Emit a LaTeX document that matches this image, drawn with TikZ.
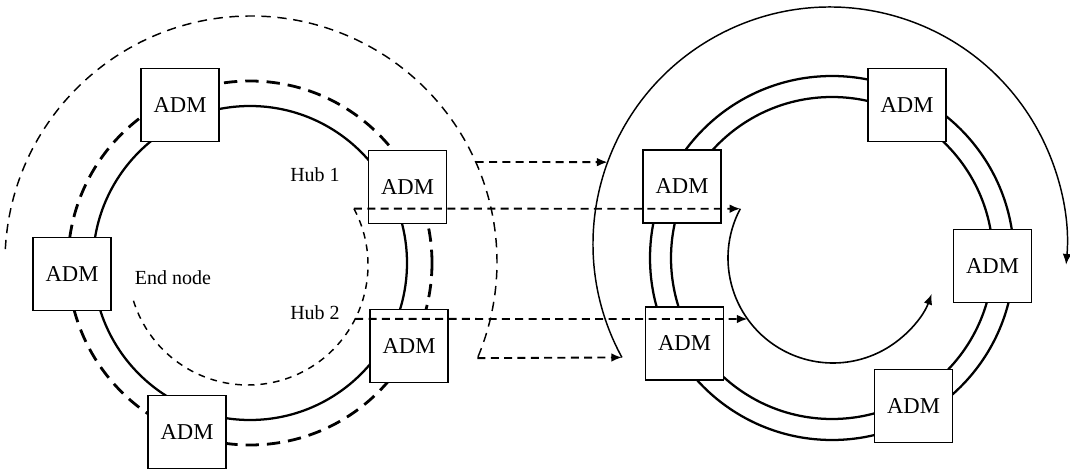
\documentclass[tikz,border=0pt]{standalone}
\usepackage{fontspec}
\setmainfont{Liberation Serif}
\usetikzlibrary{arrows.meta}
\begin{document}
\begin{tikzpicture}[x=0.75pt,y=0.75pt,
  adm/.style={draw, line width=1.2pt, fill=white, minimum width=58.5pt, minimum height=54.75pt, inner sep=0pt, font=\fontsize{17}{20}\selectfont},
  lbl/.style={font=\fontsize{15}{18}\selectfont, inner sep=0pt},
  ring/.style={line width=1.7pt},
  thickdash/.style={line width=2.1pt, dash pattern=on 10pt off 6pt},
  thindash/.style={line width=1.1pt, dash pattern=on 7pt off 5pt},
  smalldash/.style={line width=1.1pt, dash pattern=on 5pt off 4.5pt},
  flow/.style={line width=1.4pt, dash pattern=on 6pt off 4pt, -{Latex[length=8pt,width=6.5pt]}},
  turn/.style={line width=1.2pt, -{Latex[length=8pt,width=6.5pt]}}
]
\useasboundingbox (0,0) rectangle (1070,-470);

% centres
\coordinate (Lc) at (250,-263);
\coordinate (Sc) at (248,-265);
\coordinate (Oc) at (251,-262);
\coordinate (Rc) at (832,-258);
\coordinate (Bc) at (830,-244);
\coordinate (Ic) at (833,-258);

% left ring
\draw[ring] (Lc) circle[radius=157];
\draw[thickdash] (Lc) circle[radius=182];
\draw[smalldash] ([shift={(28:120)}]Sc) arc[start angle=28, end angle=-163.5, radius=120];
\draw[thindash] ([shift={(177:246)}]Oc) arc[start angle=177, end angle=-23, radius=246];

% right ring
\draw[ring] (Rc) circle[radius=182];
\draw[ring] (Rc) circle[radius=161];
\draw[turn, line width=1.1pt] ([shift={(208.6:237)}]Bc) arc[start angle=208.6, end angle=-5, radius=237];
\draw[turn] ([shift={(152:105)}]Ic) arc[start angle=152, end angle=340, radius=105];

% ADM boxes left
\node[adm] (la) at (180,-105) {ADM};
\node[adm] (h1) at (407.5,-187) {ADM};
\node[adm] (ll) at (72,-274) {ADM};
\node[adm] (h2) at (409,-346) {ADM};
\node[adm] (lb) at (187,-432) {ADM};

% ADM boxes right
\node[adm] (rul) at (682,-186.5) {ADM};
\node[adm] (rll) at (684.5,-343.5) {ADM};
\node[adm] (rtr) at (907,-105) {ADM};
\node[adm] (rr) at (992.5,-266) {ADM};
\node[adm] (rbr) at (913.5,-406) {ADM};

% labels
\node[lbl] (hub1) at (315,-175) {Hub 1};
\node[lbl] (hub2) at (315,-313) {Hub 2};
\node[lbl] (endn) at (173,-278) {End node};

% connector end points
\coordinate (o1) at ([shift={(24:246)}]Oc);
\coordinate (b1) at ([shift={(159.8:237)}]Bc);
\coordinate (s2) at ([shift={(28:120)}]Sc);
\coordinate (i2) at ([shift={(152:105)}]Ic);
\coordinate (s3) at ([shift={(-26.7:120)}]Sc);
\coordinate (i3) at ([shift={(215.5:105)}]Ic);
\coordinate (o4) at ([shift={(-23:246)}]Oc);
\coordinate (b4) at ([shift={(208.6:237)}]Bc);

% dashed flows
\draw[flow] (o1) -- (b1);
\draw[flow] (s2) -- (i2);
\draw[flow] (s3) -- (i3);
\draw[flow] (o4) -- (b4);
\end{tikzpicture}
\end{document}
